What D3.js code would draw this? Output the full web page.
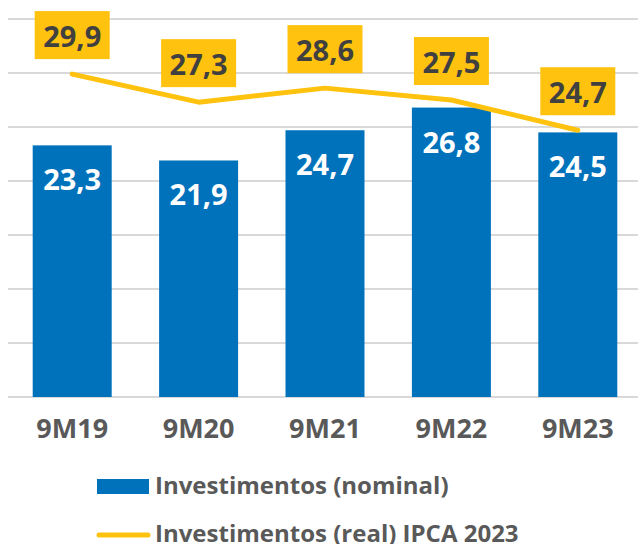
<!DOCTYPE html>
<html>
<head>
<meta charset="utf-8">
<script src="https://cdn.jsdelivr.net/npm/d3@7"></script>
<style>
  html, body { margin: 0; padding: 0; background: #fff; }
  svg { display: block; font-family: "Open Sans", sans-serif; }
</style>
</head>
<body>
<svg id="chart" width="638" height="544"></svg>
<script>
const periods = ["9M19", "9M20", "9M21", "9M22", "9M23"];
const nominal = [23.3, 21.9, 24.7, 26.8, 24.5];
const real = [29.9, 27.3, 28.6, 27.5, 24.7];
const gridTicks = [0, 5, 10, 15, 20, 25, 30, 35];
const legendLabels = ["Investimentos (nominal)", "Investimentos (real) IPCA 2023"];

const blue = "#0072BC";
const yellow = "#FFC20E";
const fmt = v => v.toFixed(1).replace(".", ",");

const svg = d3.select("#chart");

const x = d3.scaleBand()
  .domain(periods)
  .range([9, 641])
  .paddingInner(0.375)
  .paddingOuter(0.1875);

const y = d3.scaleLinear()
  .domain([0, 35])
  .range([397, 19]);

// gridlines
svg.append("g")
  .selectAll("line")
  .data(gridTicks)
  .enter()
  .append("line")
    .attr("x1", 8)
    .attr("x2", 638)
    .attr("y1", d => y(d))
    .attr("y2", d => y(d))
    .attr("stroke", "#d9d9d9")
    .attr("stroke-width", 2);

// bars
svg.append("g")
  .selectAll("rect")
  .data(nominal)
  .enter()
  .append("rect")
    .attr("x", (d, i) => x(periods[i]))
    .attr("y", d => y(d))
    .attr("width", x.bandwidth())
    .attr("height", d => y(0) - y(d))
    .attr("fill", blue);

svg.append("g")
  .selectAll("text")
  .data(nominal)
  .enter()
  .append("text")
    .attr("x", (d, i) => x(periods[i]) + x.bandwidth() / 2)
    .attr("y", d => y(d) + 45)
    .attr("text-anchor", "middle")
    .attr("fill", "#fff")
    .attr("font-weight", 700)
    .attr("font-size", 29)
    .text(d => fmt(d));

// line
const cx = (d, i) => x(periods[i]) + x.bandwidth() / 2;
const line = d3.line()
  .x(cx)
  .y(d => y(d));

svg.append("path")
  .datum(real)
  .attr("d", line)
  .attr("fill", "none")
  .attr("stroke", yellow)
  .attr("stroke-width", 5)
  .attr("stroke-linecap", "round")
  .attr("stroke-linejoin", "round");

// line labels
const boxes = svg.append("g")
  .selectAll("g")
  .data(real)
  .enter()
  .append("g")
    .attr("transform", (d, i) => `translate(${cx(d, i)},${y(d) - 39})`);

boxes.append("rect")
  .attr("x", -37.5)
  .attr("y", -24)
  .attr("width", 75)
  .attr("height", 48)
  .attr("fill", yellow);

boxes.append("text")
  .attr("y", 12)
  .attr("text-anchor", "middle")
  .attr("fill", "#404040")
  .attr("font-weight", 700)
  .attr("font-size", 29)
  .text(d => fmt(d));

// x axis labels
svg.append("g")
  .selectAll("text")
  .data(periods)
  .enter()
  .append("text")
    .attr("x", d => x(d) + x.bandwidth() / 2)
    .attr("y", 438)
    .attr("text-anchor", "middle")
    .attr("fill", "#595959")
    .attr("font-weight", 700)
    .attr("font-size", 27)
    .text(d => d);

// legend
const legend = svg.append("g");
legend.append("rect")
  .attr("x", 97)
  .attr("y", 479)
  .attr("width", 52)
  .attr("height", 15)
  .attr("fill", blue);
legend.append("line")
  .attr("x1", 99)
  .attr("x2", 148)
  .attr("y1", 535)
  .attr("y2", 535)
  .attr("stroke", yellow)
  .attr("stroke-width", 5)
  .attr("stroke-linecap", "round");
legend.selectAll("text")
  .data(legendLabels)
  .enter()
  .append("text")
    .attr("x", 155)
    .attr("y", (d, i) => 494 + i * 48)
    .attr("fill", "#595959")
    .attr("font-weight", 700)
    .attr("font-size", 24)
    .text(d => d);
</script>
</body>
</html>
